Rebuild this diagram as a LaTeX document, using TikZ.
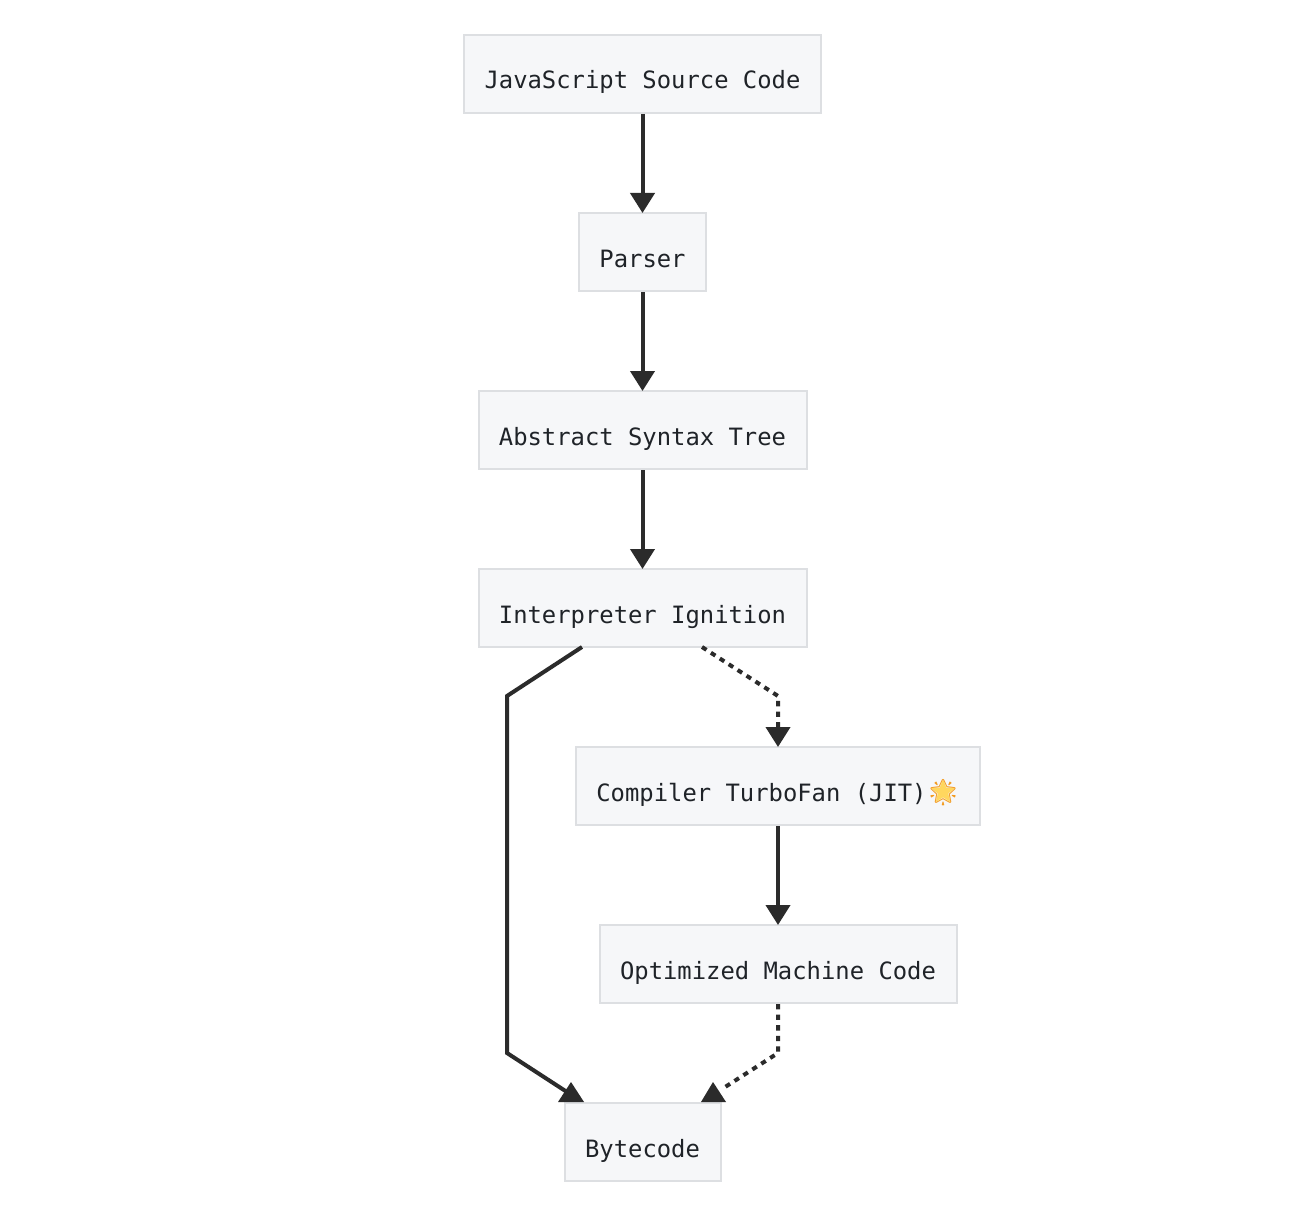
\documentclass[tikz,border=0pt]{standalone}
\usepackage{fontspec}
\setmonofont{DejaVu Sans Mono}
\newfontfamily\emojifont{Noto Emoji}
\usetikzlibrary{arrows.meta,shapes.geometric}
\definecolor{boxfill}{HTML}{F6F7F9}
\definecolor{boxline}{HTML}{DDDFE2}
\definecolor{ink}{HTML}{2B2B2B}
\definecolor{txt}{HTML}{1F2328}
\definecolor{stargold}{HTML}{FFD75E}
\definecolor{starline}{HTML}{F39A1E}
\newcommand{\glowstar}{\makebox[0pt][l]{\hspace{4.5pt}\raisebox{-1pt}{\tikz\node[star,star points=5,star point ratio=2.3,fill=stargold,draw=none,minimum size=25pt,inner sep=0pt]{};}}{\emojifont\fontsize{26}{28}\selectfont\color{starline}\char"1F31F}}
\begin{document}
\begin{tikzpicture}[x=1pt,y=-1pt,
  box/.style={draw=boxline,fill=boxfill,line width=2pt,inner sep=0pt,font=\ttfamily\fontsize{23.85}{28}\selectfont,text=txt},
  conn/.style={draw=ink,line width=4pt,-{Triangle[length=20pt,width=24pt]},shorten >=-1pt},
  plainconn/.style={draw=ink,line width=4pt},
  dot/.style={conn,dash pattern=on 5.3pt off 5.3pt},
  plaindot/.style={plainconn,dash pattern=on 5.3pt off 5.3pt},
  head/.style={fill=ink,draw=none}]
\useasboundingbox (0,0) rectangle (1316,1206);
\path[fill=white] (0,0) rectangle (1316,1206);
\def\mk#1#2#3#4#5{\node[box,minimum width=#4pt,minimum height=78pt] (#1) at (#2,#3) {\raisebox{-15pt}[0pt][0pt]{#5}};}
\mk{js}{642.5}{74}{357}{JavaScript Source Code}
\mk{pa}{642.5}{252}{127}{Parser}
\mk{ast}{642.5}{430}{328}{Abstract Syntax Tree}
\mk{ig}{642.5}{608}{328}{Interpreter Ignition}
\mk{tf}{778}{786}{404}{Compiler TurboFan (JIT)\glowstar}
\mk{om}{778}{964}{357}{Optimized Machine Code}
\mk{bc}{642.5}{1142}{156}{Bytecode}
\coordinate (a0) at (582,647);
\coordinate (a1) at (507,696);
\coordinate (a2) at (507,1053);
\coordinate (a3) at (567,1092);
\coordinate (b0) at (702,647);
\coordinate (b1) at (778,696);
\coordinate (b2) at (778,1053);
\coordinate (b3) at (722,1089);
\draw[conn] (js.south) -- (pa.north);
\draw[conn] (pa.south) -- (ast.north);
\draw[conn] (ast.south) -- (ig.north);
\draw[plainconn] (a0) -- (a1) -- (a2) -- (a3);
\fill[head] (571,1082) -- (584,1102) -- (558,1102) -- cycle;
\draw[dot] (b0) -- (b1) -- (tf.north);
\draw[conn] (tf.south) -- (om.north);
\draw[plaindot] (om.south) -- (b2) -- (b3);
\fill[head] (713,1082) -- (726,1102) -- (701,1102) -- cycle;
\end{tikzpicture}
\end{document}
